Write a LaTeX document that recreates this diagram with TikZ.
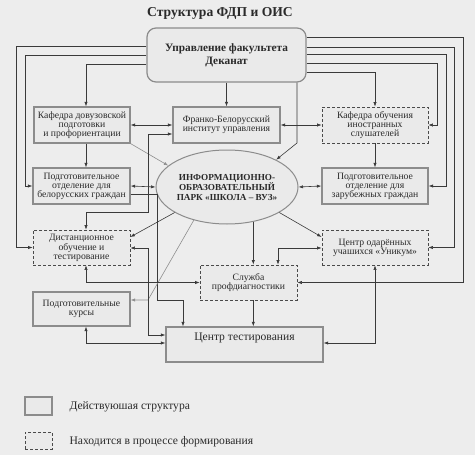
\documentclass[tikz,border=0pt]{standalone}
\usepackage{fontspec}
\setmainfont{Liberation Serif}
\usetikzlibrary{arrows.meta,shapes.geometric}
\definecolor{bgc}{HTML}{EDEDED}
\definecolor{boxfill}{HTML}{EAEAEA}
\definecolor{boxc}{HTML}{8C8C8C}
\definecolor{dashc}{HTML}{4A4A4A}
\definecolor{linec}{HTML}{3A3A3A}
\definecolor{faintc}{HTML}{8E8E8E}
\definecolor{textc}{HTML}{2A2A2A}
\newcommand\bxfont{\fontsize{9.7}{8.9}\selectfont}
\newcommand\uprfont{\fontsize{11.3}{13}\selectfont\bfseries}
\newcommand\ellfont{\fontsize{9.2}{10}\selectfont\bfseries}
\newcommand\legfont{\fontsize{11.6}{12}\selectfont}
\newcommand\titfont{\fontsize{13.6}{15}\selectfont\bfseries}
\begin{document}
\begin{tikzpicture}[x=1pt,y=-1pt,
  >={Latex[length=4.5pt,width=3.2pt]},
  conn/.style={draw=linec,line width=0.6pt},
  faint/.style={draw=faintc,line width=0.6pt},
  solidbox/.style={draw=boxc,line width=1.2pt,fill=boxfill,rectangle,align=center,font=\bxfont,text=textc,inner sep=1pt},
  dashbox/.style={draw=dashc,line width=0.7pt,dash pattern=on 3pt off 2pt,fill=boxfill,rectangle,align=center,font=\bxfont,text=textc,inner sep=1pt},
]
\fill[bgc] (0,0) rectangle (475,455);
\useasboundingbox (0,0) rectangle (475,455);

\node[font=\titfont,text=textc] (title) at (220,13) {Структура ФДП и ОИС};

\node[solidbox,minimum width=159pt,minimum height=54pt,rounded corners=9pt,font=\uprfont] (upr) at (226.5,55) {Управление факультета\\Деканат};

\node[solidbox,minimum width=96pt,minimum height=36pt] (kdov) at (82,125) {Кафедра довузовской\\подготовки\\и профориентации};
\node[solidbox,minimum width=107pt,minimum height=36pt] (frank) at (226.5,125) {Франко-Белорусский\\институт управления};
\node[dashbox,minimum width=106pt,minimum height=36pt] (kin) at (375,125) {Кафедра обучения\\иностранных\\слушателей};

\node[solidbox,minimum width=97pt,minimum height=36pt] (pbel) at (81.5,186) {Подготовительное\\отделение для\\белорусских граждан};
\node[ellipse,draw=boxc,line width=1pt,fill=boxfill,minimum width=140pt,minimum height=74pt,inner sep=0pt,align=center,font=\ellfont,text=textc] (ell) at (227,187) {ИНФОРМАЦИОННО-\\ОБРАЗОВАТЕЛЬНЫЙ\\ПАРК «ШКОЛА – ВУЗ»};
\node[solidbox,minimum width=106pt,minimum height=36pt] (pzar) at (375,186) {Подготовительное\\отделение для\\зарубежных граждан};

\node[dashbox,minimum width=97pt,minimum height=35pt] (dist) at (81.5,247.5) {Дистанционное\\обучение и\\тестирование};
\node[dashbox,minimum width=106pt,minimum height=35pt] (odar) at (375,247.5) {Центр одарённых\\учашихся «Уникум»};
\node[dashbox,minimum width=97pt,minimum height=35pt] (sluz) at (248.5,282.5) {Служба\\профдиагностики};
\node[solidbox,minimum width=97pt,minimum height=34pt] (kurs) at (81.5,309) {Подготовительные\\курсы};
\node[solidbox,minimum width=157pt,minimum height=35pt] (ctest) at (244.5,344.5) {};
\node[font=\legfont,text=textc] (ctestlbl) at (244.5,338) {Центр тестирования};

% from Upravlenie, left
\draw[conn,->] (upr.west |- 0,46) -- (16,46) |- (dist.west);
\draw[conn,->] (upr.west |- 0,55) -- (25,55) |- (pbel.west);
\draw[conn,->] (upr.west |- 0,64) -| (kdov.north -| 86,0);
% from Upravlenie, right
\draw[conn,->] (upr.east |- 0,37) -- (463,37) |- (sluz.east);
\draw[conn,->] (upr.east |- 0,47) -- (454,47) |- (odar.east);
\draw[conn,->] (upr.east |- 0,54) -- (446,54) |- (pzar.east);
\draw[conn,->] (upr.east |- 0,63) -- (437,63) |- (kin.east);
\draw[conn,->] (upr.east |- 0,72) -| (kin.north);
% from Upravlenie, bottom
\draw[conn,->] (upr.south -| frank.north) -- (frank.north);
\draw[conn,->] (upr.south -| 297,0) -- (297,143) -- (ell.29);

% Kafedra dovuz
\draw[conn,<->] (kdov.east) -- (frank.west);
\draw[conn,->] (kdov.south -| 86,0) -- (pbel.north -| 86,0);
\draw[faint,->] (kdov.south east) -- (ell.160);

% Franko
\draw[conn,<->] (frank.west |- 0,134) -- (148,134) -- (148,212) -| (dist.north -| 86,0);
\draw[conn,<->] (frank.east) -- (kin.west);
\draw[conn,->] (kin.south) -- (pzar.north);

% Podgot bel
\draw[conn,<->] (pbel.east) -- (ell.west);
\draw[conn,->] (pbel.east |- 0,194) -- (157,194) -- (157,300) -| (ctest.north -| 183,0);

% Ellipse
\draw[conn,<->] (ell.east) -- (pzar.west);
\draw[conn,->] (ell.206) -- (dist.east |- 0,237);
\draw[conn,->] (ell.334) -- (odar.west |- 0,237);
\draw[conn,->] (ell.307) -- (ell.307 |- sluz.north);
\draw[faint,->] (ell.225) -- (148,300) -- (kurs.east |- 0,300);

% Distance
\draw[conn,<->] (dist.east |- 0,248) -- (148,248) |- (ctest.west |- 0,335);
\draw[conn,<->] (dist.south -| 86,0) |- (sluz.west);

% Centr odar
\draw[conn,<->] (odar.west |- 0,248) -| (sluz.north -| 278,0);
\draw[conn,<->] (odar.south) |- (ctest.east |- 0,343);

% Sluzhba, kursy
\draw[conn,->] (sluz.south -| ell.307) -- (ctest.north -| ell.307);
\draw[conn,<->] (kurs.south -| 86,0) |- (ctest.west |- 0,343);

% Legend
\node[solidbox,minimum width=27pt,minimum height=18pt] (leg1) at (38.5,406) {};
\node[dashbox,minimum width=27pt,minimum height=17pt] (leg2) at (38.5,440.5) {};
\node[anchor=west,font=\legfont,text=textc] (leg1t) at (66,407) {Действуюшая структура};
\node[anchor=west,font=\legfont,text=textc] (leg2t) at (66,442) {Находится в процессе формирования};
\end{tikzpicture}
\end{document}
